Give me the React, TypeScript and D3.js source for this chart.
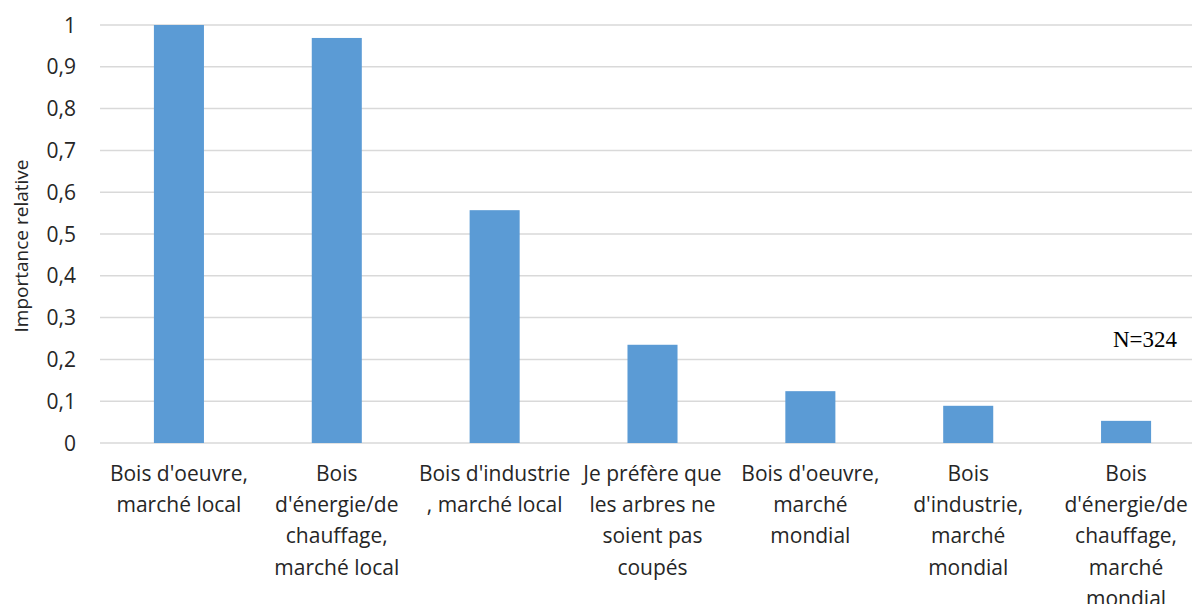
import { useEffect, useRef } from 'react'
import * as d3 from 'd3'

// Categories (label lines as in the original chart)
const categories: string[][] = [
  ["Bois d'oeuvre,", 'marché local'],
  ['Bois', "d'énergie/de", 'chauffage,', 'marché local'],
  ["Bois d'industrie", ', marché local'],
  ['Je préfère que', 'les arbres ne', 'soient pas', 'coupés'],
  ["Bois d'oeuvre,", 'marché', 'mondial'],
  ['Bois', "d'industrie,", 'marché', 'mondial'],
  ['Bois', "d'énergie/de", 'chauffage,', 'marché', 'mondial'],
]
const values = [1.0, 0.969, 0.557, 0.235, 0.124, 0.089, 0.053]
const yTicks = [0, 0.1, 0.2, 0.3, 0.4, 0.5, 0.6, 0.7, 0.8, 0.9, 1]

const width = 1192
const height = 604

export default function App() {
  const svgRef = useRef<SVGSVGElement>(null)

  useEffect(() => {
    if (!svgRef.current) return
    const svg = d3.select(svgRef.current)
    svg.selectAll('*').remove()

    const left = 100
    const right = 1205
    const top = 25
    const bottom = 443
    const font = "'Open Sans', sans-serif"

    const keys = categories.map((_, i) => String(i))
    const x = d3.scaleBand<string>()
      .domain(keys)
      .range([left, right])
      .paddingInner(0.683)
      .paddingOuter(0.3415)

    const y = d3.scaleLinear().domain([0, 1]).range([bottom, top])

    // Gridlines
    svg.append('g')
      .selectAll('line')
      .data(yTicks)
      .enter().append('line')
      .attr('x1', left)
      .attr('x2', width)
      .attr('y1', d => y(d))
      .attr('y2', d => y(d))
      .attr('stroke', '#d9d9d9')
      .attr('stroke-width', 1.5)

    // Y tick labels
    svg.append('g')
      .selectAll('text')
      .data(yTicks)
      .enter().append('text')
      .attr('x', 76)
      .attr('y', d => y(d))
      .attr('dy', '0.36em')
      .attr('text-anchor', 'end')
      .style('font-family', font)
      .style('font-size', '21px')
      .style('fill', '#262626')
      .text(d => (d === 0 || d === 1 ? String(d) : d3.format('.1f')(d).replace('.', ',')))

    // Y axis title
    svg.append('text')
      .attr('transform', `translate(28, ${(top + bottom) / 2 + 12}) rotate(-90)`)
      .attr('text-anchor', 'middle')
      .style('font-family', font)
      .style('font-size', '19px')
      .style('fill', '#262626')
      .text('Importance relative')

    // Bars
    svg.append('g')
      .selectAll('rect')
      .data(values)
      .enter().append('rect')
      .attr('x', (_, i) => x(String(i))!)
      .attr('y', d => y(d))
      .attr('width', x.bandwidth())
      .attr('height', d => y(0) - y(d))
      .attr('fill', '#5b9bd5')

    // Category labels
    const labels = svg.append('g')
      .selectAll('text')
      .data(categories)
      .enter().append('text')
      .attr('text-anchor', 'middle')
      .style('font-family', font)
      .style('font-size', '21px')
      .style('fill', '#262626')

    labels.each(function (lines, i) {
      const cx = x(String(i))! + x.bandwidth() / 2
      d3.select(this)
        .selectAll('tspan')
        .data(lines)
        .enter().append('tspan')
        .attr('x', cx)
        .attr('y', (_, j) => 481 + j * 31.2)
        .text(d => d)
    })

    // Sample size note
    svg.append('text')
      .attr('x', 1177)
      .attr('y', 347)
      .attr('text-anchor', 'end')
      .style('font-family', "'Liberation Serif', serif")
      .style('font-size', '23px')
      .style('fill', '#000')
      .text('N=324')
  }, [])

  return (
    <svg
      ref={svgRef}
      width={width}
      height={height}
      style={{ position: 'absolute', left: 0, top: 0, background: '#fff' }}
    />
  )
}
